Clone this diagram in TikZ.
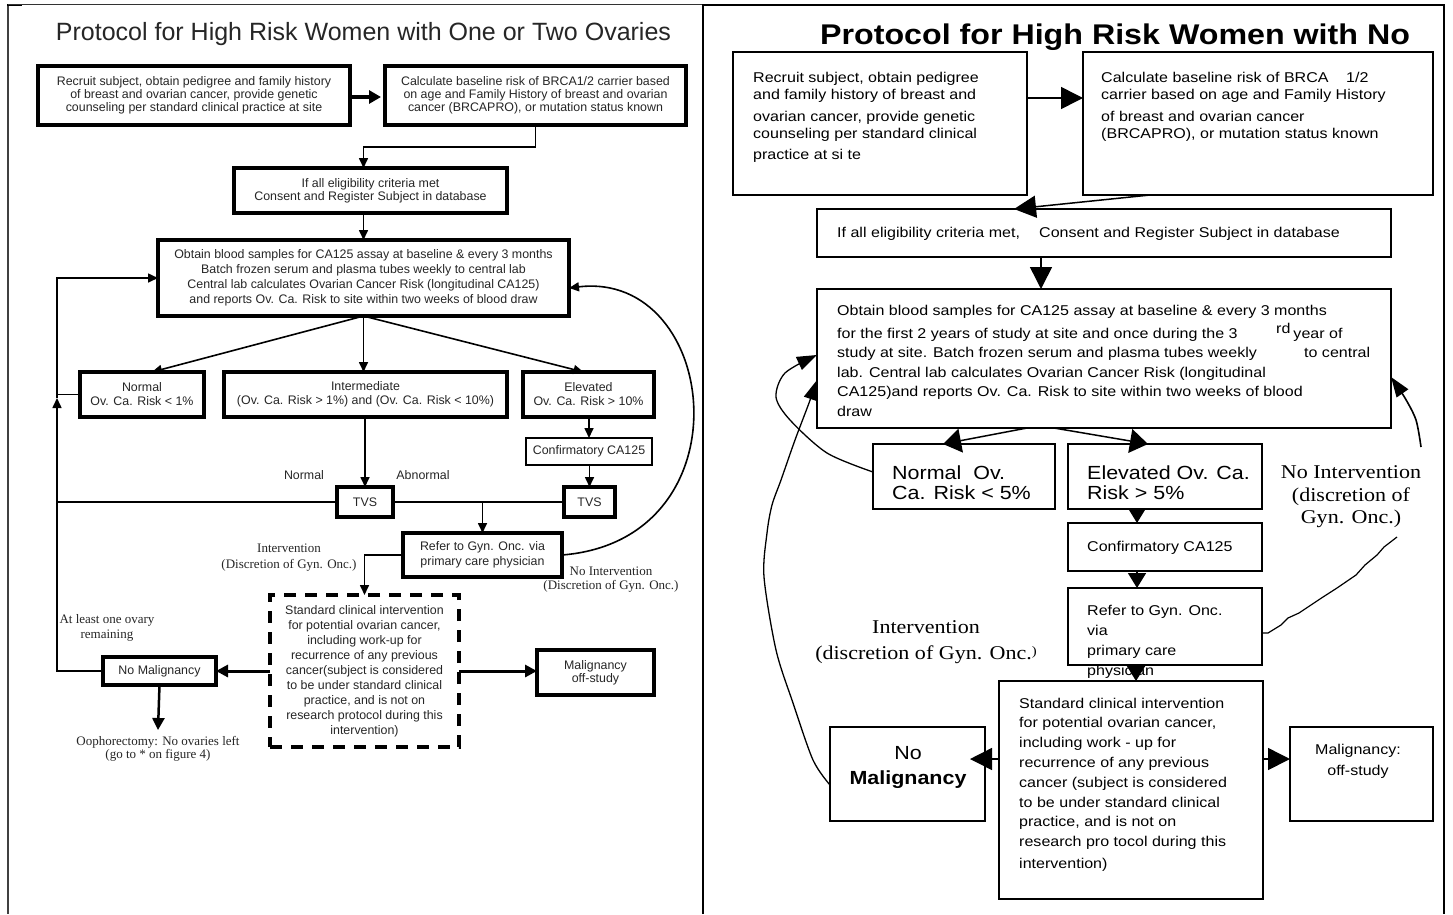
\documentclass[tikz,border=0pt]{standalone}
\usepackage{fontspec}
\usetikzlibrary{arrows.meta}
\newfontfamily\rsans[FakeStretch=1.13]{Liberation Sans}
\newfontfamily\rserif[FakeStretch=1.13]{Liberation Serif}
\newfontfamily\lsans{Liberation Sans}
\newfontfamily\lserif{Liberation Serif}
\tikzset{
  rbox/.style={draw, line width=1.8pt, inner sep=0pt, outer sep=0pt},
  rtxt/.style={inner sep=0pt, anchor=north west, align=left, font=\rsans\fontsize{14.2}{17.3}\selectfont},
  rarr/.style={line width=1.5pt, -{Triangle[length=22pt,width=22pt]}},
  rarrm/.style={line width=1.5pt, -{Triangle[length=18pt,width=24pt]}},
  rarrs/.style={line width=1.5pt, -{Triangle[length=15pt,width=18pt]}},
  hand/.style={line width=1.3pt, line join=round, -{Triangle[length=20pt,width=14pt]}},
  lbox/.style={draw, line width=3.2pt, inner sep=0pt, outer sep=0pt, align=center, text=black!85, font=\lsans\fontsize{12.4}{12.8}\selectfont},
  larr/.style={line width=1.6pt, -{Triangle[length=10pt,width=9pt]}},
  llab/.style={inner sep=0pt, align=center, text=black!85, font=\lserif\fontsize{13}{16}\selectfont},
  lslab/.style={inner sep=0pt, align=center, text=black!85, font=\lsans\fontsize{12.4}{14}\selectfont}
}
\begin{document}
\begin{tikzpicture}[x=1pt,y=-1pt]
\useasboundingbox (0,0) rectangle (1453,914);
\fill[white] (0,0) rectangle (1453,914);

% ---------- frames ----------
\draw[line width=2.5pt, black!75] (8,5) -- (8,914);
\draw[line width=2pt] (7,5) -- (22,5);
\draw[line width=0.9pt, black!80] (8,4.5) -- (709,4.5);
\draw[line width=2pt] (703,914) -- (703,5) -- (1444,5) -- (1444,914);

% ================= LEFT PANEL =================
\node[anchor=base, inner sep=0pt, text=black!85, font=\lsans\fontsize{25}{30}\selectfont] (ltitle) at (363.5,40) {Protocol for High Risk Women with One or Two Ovaries};

\node[lbox, minimum width=312, minimum height=59] (L1) at (194,95.5) {Recruit subject, obtain pedigree and family history\\of breast and ovarian cancer, provide genetic\\counseling per standard clinical practice at site};
\node[lbox, minimum width=301, minimum height=59] (L2) at (535.5,95.5) {Calculate baseline risk of BRCA1/2 carrier based\\on age and Family History of breast and ovarian\\cancer (BRCAPRO), or mutation status known};
\node[lbox, minimum width=273, minimum height=45, font=\lsans\fontsize{12.4}{13}\selectfont] (L3) at (370.5,190.5) {If all eligibility criteria met\\Consent and Register Subject in database};
\node[lbox, minimum width=411, minimum height=76, font=\lsans\fontsize{12.4}{15}\selectfont] (L4) at (363.5,278) {Obtain blood samples for CA125 assay at baseline \& every 3 months\\Batch frozen serum and plasma tubes weekly to central lab\\Central lab calculates Ovarian Cancer Risk (longitudinal CA125)\\and reports Ov. Ca. Risk to site within two weeks of blood draw};
\node[lbox, minimum width=124, minimum height=45, font=\lsans\fontsize{12.4}{14}\selectfont] (LN) at (142,394.5) {Normal\\Ov. Ca. Risk < 1\%};
\node[lbox, minimum width=283, minimum height=45, font=\lsans\fontsize{12.4}{14}\selectfont] (LI) at (365.5,394.5) {Intermediate\\(Ov. Ca. Risk > 1\%) and (Ov. Ca. Risk < 10\%)};
\node[lbox, minimum width=131, minimum height=45, font=\lsans\fontsize{12.4}{14}\selectfont] (LE) at (588.5,394.5) {Elevated\\Ov. Ca. Risk > 10\%};
\node[lbox, line width=2.5pt, minimum width=126, minimum height=27] (LC) at (589,451.5) {Confirmatory CA125};
\node[lbox, minimum width=56, minimum height=30] (LT1) at (365,502) {TVS};
\node[lbox, minimum width=51, minimum height=30] (LT2) at (589.5,502) {TVS};
\node[lbox, minimum width=159, minimum height=44, font=\lsans\fontsize{12.4}{15}\selectfont] (LR) at (482.5,555) {Refer to Gyn. Onc. via\\primary care physician};
\node[lbox, dash pattern=on 12pt off 9pt, line width=3.5pt, minimum width=189, minimum height=152, font=\lsans\fontsize{12.4}{15}\selectfont] (LS) at (364.5,671) {Standard clinical intervention\\for potential ovarian cancer,\\including work-up for\\recurrence of any previous\\cancer(subject is considered\\to be under standard clinical\\practice, and is not on\\research protocol during this\\intervention)};
\node[lbox, minimum width=113, minimum height=28] (LNM) at (159.5,671) {No Malignancy};
\node[lbox, minimum width=117, minimum height=45, font=\lsans\fontsize{12.4}{13}\selectfont] (LM) at (595.5,672.5) {Malignancy\\off-study};

\node[lslab] (lnorm) at (304,475) {Normal};
\node[lslab] (labn) at (423,475) {Abnormal};
\node[llab, font=\lserif\fontsize{13}{16}\selectfont] (lint) at (289,557.5) {Intervention\\(Discretion of Gyn. Onc.)};
\node[llab, font=\lserif\fontsize{13}{14}\selectfont] (lnoint) at (611,580) {No Intervention\\(Discretion of Gyn. Onc.)};
\node[llab, font=\lserif\fontsize{13}{15}\selectfont] (lovary) at (107,627.5) {At least one ovary\\remaining};
\node[llab, anchor=north, font=\lserif\fontsize{13}{13}\selectfont] (loopho) at (158,736) {Oophorectomy: No ovaries left\\(go to * on figure 4)};

\coordinate (fb) at (57,398);
\draw[line width=3.5pt, -{Triangle[length=12pt,width=13pt]}] ([yshift=-1.5pt]L1.east) -- ([xshift=-4pt,yshift=-1.5pt]L2.west);
\draw[larr] (L2.south) -- ++(0,22) -| ([xshift=-7pt]L3.north);
\draw[larr] ([xshift=-7pt]L3.south) -- (L4.north);
\draw[larr] (L4.south) -- ([xshift=10pt]LN.north);
\draw[larr] (L4.south) -- (L4.south |- LI.north);
\draw[larr] (L4.south) -- ([xshift=-5pt]LE.north);
\draw[larr] (LC.north |- LE.south) -- (LC.north);
\draw[larr] (LT1.north |- LI.south) -- (LT1.north);
\draw[larr] (LT2.north |- LC.south) -- (LT2.north);
\draw[line width=1.6pt] (LT1.east) -- (LT2.west);
\draw[line width=1.6pt] (LT1.west) -- (LT1.west -| fb);
\draw[line width=1.6pt] (LN.west) -- (LN.west -| fb);
\draw[larr] (LNM.west) -| (fb);
\draw[larr] (fb) |- (L4.west);
\draw[larr] (LR.north |- LT1.east) -- (LR.north);
\draw[larr] (LR.west) -| (LS.north);
\draw[larr] (LR.east) .. controls (750,540) and (720,270) .. ([yshift=-10pt]L4.east);
\draw[line width=3pt, -{Triangle[length=12pt,width=12pt]}] (LS.west) -- (LNM.east);
\draw[line width=3pt, -{Triangle[length=12pt,width=12pt]}] (LS.east) -- (LS.east -| LM.west);
\draw[line width=2.5pt, -{Triangle[length=12pt,width=12pt]}] (LNM.south) -- ([yshift=6pt]loopho.north);

% ================= RIGHT PANEL =================
\node[anchor=base, inner sep=0pt, font=\rsans\bfseries\fontsize{28.5}{34}\selectfont] (rtitle) at (1115,44) {Protocol for High Risk Women with No};

\node[rbox, minimum width=294, minimum height=143] (r1) at (880,123.5) {};
\node[rbox, minimum width=350, minimum height=143] (r2) at (1258,123.5) {};
\node[rbox, minimum width=574, minimum height=48] (r3) at (1104,233) {};
\node[rbox, minimum width=574, minimum height=139] (r4) at (1104,358.5) {};
\node[rbox, minimum width=182, minimum height=65] (rN) at (964,476.5) {};
\node[rbox, minimum width=194, minimum height=65] (rE) at (1165,476.5) {};
\node[rbox, minimum width=194, minimum height=48] (rC) at (1165,547) {};
\node[rbox, minimum width=194, minimum height=77] (rR) at (1165,626.5) {};
\node[rbox, minimum width=264, minimum height=218] (rS) at (1131,790) {};
\node[rbox, minimum width=155, minimum height=94] (rNM) at (907.5,774) {};
\node[rbox, minimum width=143, minimum height=94] (rM) at (1361.5,774) {};

\node[rtxt] (t1) at (753,71.6) {Recruit subject, obtain pedigree\\and family history of breast and\\[4.7pt]ovarian cancer, provide genetic\\counseling per standard clinical\\[3.7pt]practice at si te};
\node[rtxt] (t2) at (1101,71.6) {\makebox[245pt][l]{Calculate baseline risk of BRCA}1/2\\carrier based on age and Family History\\[4.7pt]of breast and ovarian cancer\\(BRCAPRO), or mutation status known};
\node[rtxt] (t3) at (837,226.6) {\makebox[202pt][l]{If all eligibility criteria met,}Consent and Register Subject in database};
\node[rtxt, font=\rsans\fontsize{14.2}{19.5}\selectfont] (t4) at (837,304.6) {Obtain blood samples for CA125 assay at baseline \& every 3 months\\[3.5pt]\makebox[439pt][l]{for the first 2 years of study at site and once during the 3}\raisebox{5pt}{rd}\hspace{3pt}year of\\\makebox[467pt][l]{study at site. Batch frozen serum and plasma tubes weekly}to central\\lab. Central lab calculates Ovarian Cancer Risk (longitudinal\\CA125)and reports Ov. Ca. Risk to site within two weeks of blood\\draw};
\node[rtxt, font=\rsans\fontsize{19}{19.5}\selectfont] (tN) at (892,466) {Normal\ \ Ov.\\Ca. Risk < 5\%};
\node[rtxt, font=\rsans\fontsize{19}{19.5}\selectfont] (tE) at (1087,466) {Elevated Ov. Ca.\\Risk > 5\%};
\node[inner sep=0pt, anchor=north, align=center, font=\rserif\fontsize{19.5}{22.5}\selectfont] (tNI) at (1351,465.5) {No Intervention\\(discretion of\\Gyn. Onc.)};
\node[inner sep=0pt, anchor=north, align=center, font=\rserif\fontsize{19.5}{26}\selectfont] (tI) at (926,620.5) {Intervention\\(discretion of Gyn. Onc.{\fontsize{13}{13}\selectfont\raisebox{4pt}{)}}};
\node[rtxt] (tC) at (1087,540.6) {Confirmatory CA125};
\node[rtxt, font=\rsans\fontsize{14.2}{20}\selectfont] (tR) at (1087,604.6) {Refer to Gyn. Onc.\\via\\primary care\\physician};
\node[rtxt, font=\rsans\fontsize{14.2}{19.8}\selectfont] (tS) at (1019,697.6) {Standard clinical intervention\\for potential ovarian cancer,\\including work - up for\\recurrence of any previous\\cancer (subject is considered\\to be under standard clinical\\practice, and is not on\\research pro tocol during this\\[2pt]intervention)};
\node[inner sep=0pt, anchor=north, align=center, font=\rsans\fontsize{19}{25}\selectfont] (tNM) at (908,746) {No\\\textbf{Malignancy}};
\node[inner sep=0pt, anchor=north, align=center, font=\rsans\fontsize{14.2}{21}\selectfont] (tM) at (1358,743.6) {Malignancy:\\off-study};

\draw[rarr] ([yshift=25.5pt]r1.east) -- ([yshift=25.5pt]r2.west);
\draw[rarr] ([xshift=-108pt]r2.south) -- ([xshift=-90pt]r3.north);
\draw[rarr] ([xshift=-63pt]r3.south) -- ([xshift=-63pt]r4.north);
\draw[rarrm] ([xshift=-77pt]r4.south) -- ([xshift=-21pt]rN.north);
\draw[rarrm] ([xshift=-50pt]r4.south) -- ([xshift=-17pt]rE.north);
\draw[rarrs] ([xshift=-28pt]rE.south) -- ([xshift=-28pt]rC.north);
\draw[rarrs] ([xshift=-28pt]rC.south) -- ([xshift=-28pt]rR.north);
\draw[rarrs] ([xshift=-29pt]rR.south) -- ([xshift=5pt]rS.north);
\draw[rarr] ([yshift=31pt]rS.west) -- ([xshift=-15pt,yshift=15pt]rNM.east);
\draw[rarr] ([yshift=31pt]rS.east) -- ([yshift=15pt]rM.west);

\draw[hand] plot[smooth] coordinates {([yshift=4.5pt]rN.west) (827,453) (790,420) (776,397) (785,373) ([yshift=3.5pt]r4.west)};
\draw[hand] plot[smooth] coordinates {([yshift=-11pt]rNM.west) (813,760) (793,703) (776,650) (764,577) (767,533) (772,505) (781,480) (795,440) (809,403) ([yshift=-21.5pt]r4.west)};
\coordinate (nitop) at (1421,447);
\draw[hand, line width=1.6pt] plot[smooth] coordinates {(nitop) (1416,420) (1405,398) ([yshift=-18.5pt]r4.east)};
\coordinate (niend) at (1397,537);
\draw[line width=1.2pt, line join=round] plot coordinates {([yshift=-6.5pt]rR.east) (1268,633) (1281,625) (1288,618) (1299,613) (1323,597) (1337,588) (1356,575) (1365,565) (1377,555) (1384,547) (niend)};
\end{tikzpicture}
\end{document}
